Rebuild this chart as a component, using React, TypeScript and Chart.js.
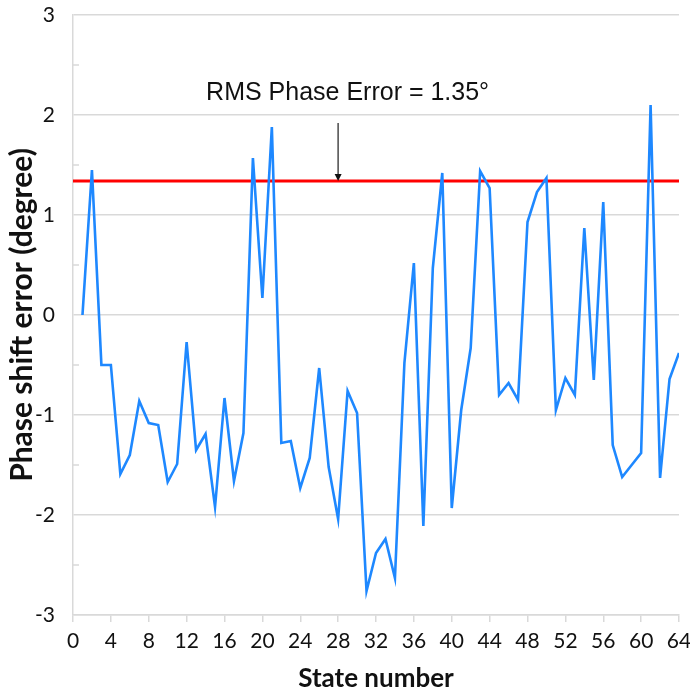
import React, { useEffect, useRef } from "react";
import { Chart, registerables } from "chart.js";

Chart.register(...registerables);

const stateNumbers = Array.from({ length: 64 }, (_, i) => i + 1);
const phaseErrors = [
  0.0, 1.45, -0.5, -0.5, -1.59, -1.4, -0.86, -1.08, -1.1, -1.67,
  -1.49, -0.27, -1.35, -1.19, -1.92, -0.83, -1.66, -1.18, 1.57, 0.17,
  1.88, -1.28, -1.26, -1.73, -1.43, -0.53, -1.52, -2.04, -0.76, -0.98,
  -2.76, -2.38, -2.24, -2.63, -0.48, 0.52, -2.11, 0.47, 1.42, -1.93,
  -0.95, -0.33, 1.44, 1.27, -0.8, -0.68, -0.85, 0.93, 1.23, 1.37,
  -0.95, -0.63, -0.8, 0.87, -0.65, 1.13, -1.3, -1.62, -1.5, -1.38,
  2.1, -1.63, -0.64, -0.38,
];
const rmsValue = 1.34;
const rmsLabel = "RMS Phase Error = 1.35°";
const xTickValues = [0, 4, 8, 12, 16, 20, 24, 28, 32, 36, 40, 44, 48, 52, 56, 60, 64];
const yTickValues = [-3, -2, -1, 0, 1, 2, 3];
const yMinorTicks = [-2.5, -1.5, -0.5, 0.5, 1.5, 2.5];
const xTitle = "State number";
const yTitle = "Phase shift error (degree)";

// annotation anchors (data units)
const arrowX = 28;
const arrowTopY = 1.92;
const labelX = 29;
const labelY = 2.22;

const annotationPlugin = {
  id: "rmsAnnotation",
  afterDatasetsDraw(chart: any) {
    const { ctx, scales } = chart;
    const xs = scales.x;
    const ys = scales.y;
    ctx.save();
    // minor ticks on y axis
    ctx.strokeStyle = "#d9d9d9";
    ctx.lineWidth = 1.5;
    const ax = chart.chartArea.left;
    yMinorTicks.forEach((v) => {
      const py = ys.getPixelForValue(v);
      ctx.beginPath();
      ctx.moveTo(ax, py);
      ctx.lineTo(ax + 6, py);
      ctx.stroke();
    });
    // label
    ctx.fillStyle = "#111";
    ctx.font = "25px 'Liberation Sans', Arial, sans-serif";
    ctx.textAlign = "center";
    ctx.textBaseline = "middle";
    ctx.fillText(rmsLabel, xs.getPixelForValue(labelX), ys.getPixelForValue(labelY));
    // arrow
    const px = xs.getPixelForValue(arrowX);
    const top = ys.getPixelForValue(arrowTopY);
    const tip = ys.getPixelForValue(rmsValue);
    ctx.strokeStyle = "#555";
    ctx.lineWidth = 1.6;
    ctx.beginPath();
    ctx.moveTo(px, top);
    ctx.lineTo(px, tip - 5);
    ctx.stroke();
    ctx.fillStyle = "#111";
    ctx.beginPath();
    ctx.moveTo(px - 3.5, tip - 7);
    ctx.lineTo(px + 3.5, tip - 7);
    ctx.lineTo(px, tip);
    ctx.closePath();
    ctx.fill();
    ctx.restore();
  },
};

export default function App() {
  const ref = useRef<HTMLCanvasElement | null>(null);
  useEffect(() => {
    if (!ref.current) return;
    const chart = new Chart(ref.current, {
      type: "line",
      data: {
        datasets: [
          {
            label: "Phase error",
            data: stateNumbers.map((s, i) => ({ x: s, y: phaseErrors[i] })),
            borderColor: "#1E88FF",
            borderWidth: 2.6,
            pointRadius: 0,
            tension: 0,
            order: 1,
          },
          {
            label: "RMS",
            data: [
              { x: xTickValues[0], y: rmsValue },
              { x: xTickValues[xTickValues.length - 1], y: rmsValue },
            ],
            borderColor: "#FF0000",
            borderWidth: 3,
            pointRadius: 0,
            order: 2,
          },
        ],
      },
      options: {
        responsive: false,
        animation: false,
        layout: { padding: { top: 15, right: 0, left: 0, bottom: 0 } },
        plugins: { legend: { display: false }, tooltip: { enabled: false } },
        scales: {
          x: {
            type: "linear",
            min: 0,
            max: 64,
            afterFit: (s: any) => {
              s.height = 79;
              s.paddingRight = 11;
            },
            afterBuildTicks: (s: any) => {
              s.ticks = xTickValues.map((v) => ({ value: v }));
            },
            grid: {
              drawOnChartArea: false,
              drawTicks: true,
              tickLength: 7,
              color: "#d9d9d9",
              lineWidth: 1.5,
            },
            border: { color: "#d9d9d9", width: 1.5 },
            ticks: {
              padding: 7,
              color: "#111",
              maxRotation: 0,
              autoSkip: false,
              font: { family: "Lato, 'Open Sans', sans-serif", size: 21 },
            },
            title: {
              display: true,
              text: xTitle,
              color: "#111",
              padding: { top: 0, bottom: 0 },
              font: { family: "Lato, 'Open Sans', sans-serif", size: 26, weight: "bold" },
            },
          },
          y: {
            type: "linear",
            min: -3,
            max: 3,
            afterFit: (s: any) => {
              s.width = 73;
              s.paddingTop = 0;
              s.paddingBottom = 0;
            },
            afterBuildTicks: (s: any) => {
              s.ticks = yTickValues.map((v) => ({ value: v }));
            },
            grid: {
              drawTicks: false,
              color: "#d9d9d9",
              lineWidth: 1.5,
            },
            border: { color: "#d9d9d9", width: 1.5 },
            ticks: {
              padding: 18,
              color: "#111",
              autoSkip: false,
              font: { family: "Lato, 'Open Sans', sans-serif", size: 21 },
            },
            title: {
              display: true,
              text: yTitle,
              color: "#111",
              padding: { top: 4, bottom: 0 },
              font: { family: "Lato, 'Open Sans', sans-serif", size: 30, weight: "bold" },
            },
          },
        },
      },
      plugins: [annotationPlugin],
    });
    return () => chart.destroy();
  }, []);
  return (
    <div style={{ position: "absolute", left: 0, top: 0, width: 690, height: 694, background: "#fff" }}>
      <canvas ref={ref} width={690} height={694} />
    </div>
  );
}
